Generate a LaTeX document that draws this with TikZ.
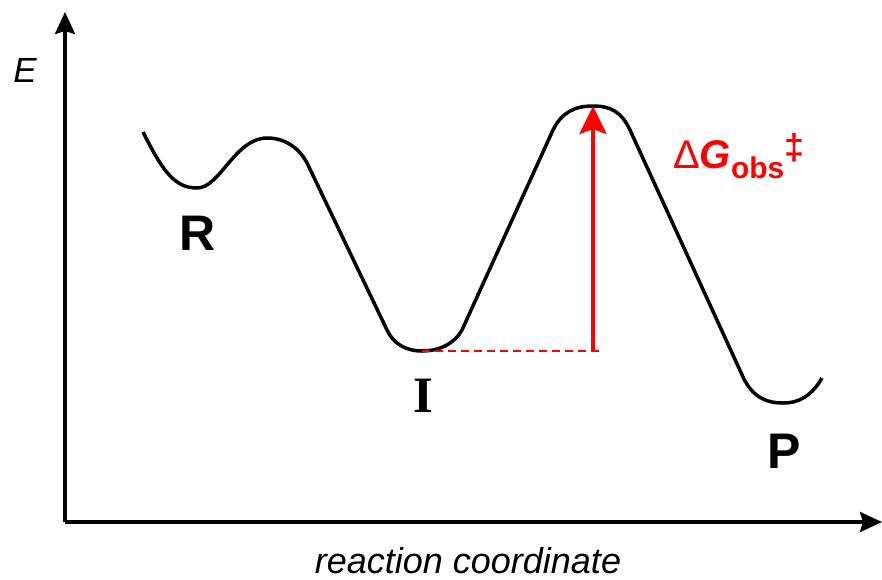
\documentclass[tikz,border=0pt]{standalone}
\usepackage{fontspec}
\setmainfont{Liberation Sans}
\newfontfamily\timesfont{Liberation Serif}
\usetikzlibrary{arrows.meta,positioning}

\begin{document}
\begin{tikzpicture}[
    x=1pt, y=-1pt,
    axis/.style={line width=3.5pt, -{Stealth[length=22pt,width=20pt,inset=3pt]}},
    curve/.style={line width=3.5pt, line join=round},
    barrier/.style={red, line width=4pt, -{Stealth[length=28pt,width=27pt,inset=5pt]}},
    guide/.style={red, line width=2pt, dash pattern=on 8pt off 5pt},
    state/.style={inner sep=0pt, anchor=base, font=\fontsize{50}{50}\selectfont\bfseries},
]
\useasboundingbox (0,0) rectangle (882,579);

%% ---- axes ----
\coordinate (origin) at (65,522);
\coordinate (ytop)   at (65,12);
\coordinate (xend)   at (882,522);
\draw[axis] (origin) -- (ytop);
\draw[axis] (origin) -- (xend);

\node[inner sep=0pt, anchor=base, font=\fontsize{35}{35}\selectfont\itshape]
    (elab) at (25,82) {E};
\node[inner sep=0pt, anchor=base, font=\fontsize{36}{36}\selectfont\itshape]
    (xlab) at (468,573) {reaction coordinate};

%% ---- energy profile ----
\coordinate (imin) at (422,351);
\coordinate (ts)   at (593,106);
\draw[curve] (143,132) .. controls (163,172) and (175,188) .. (197,188)
    .. controls (220,188) and (235,138) .. (267,138)
    .. controls (285,138) and (300,148) .. (308,165) -- (387,330)
    .. controls (393,343) and (405,351) .. (imin)
    .. controls (440,351) and (455,343) .. (462,330) -- (553,130)
    .. controls (562,112) and (575,106) .. (ts)
    .. controls (612,106) and (622,113) .. (630,130) -- (743,377)
    .. controls (752,396) and (765,403) .. (783,403)
    .. controls (800,403) and (812,395) .. (822,378);

%% ---- states ----
\node[state] (R) at (198,250) {R};
\node[state, font=\fontsize{51}{51}\selectfont\bfseries\timesfont] (I) at (423,412) {I};
\node[state] (P) at (784,468) {P};

%% ---- observed barrier ----
\coordinate (base) at (600,351);
\draw[guide] (imin) -- (base);
\draw[barrier] (ts|-imin) -- (ts);
\node[inner sep=0pt, anchor=base west, red, font=\fontsize{40}{40}\selectfont]
    (dg) at (673,168)
    {Δ\textbf{\textit{G}}\raisebox{-10pt}{\fontsize{30}{30}\selectfont\bfseries obs}\raisebox{9pt}{\fontsize{36}{36}\selectfont\bfseries ‡}};

\end{tikzpicture}
\end{document}
